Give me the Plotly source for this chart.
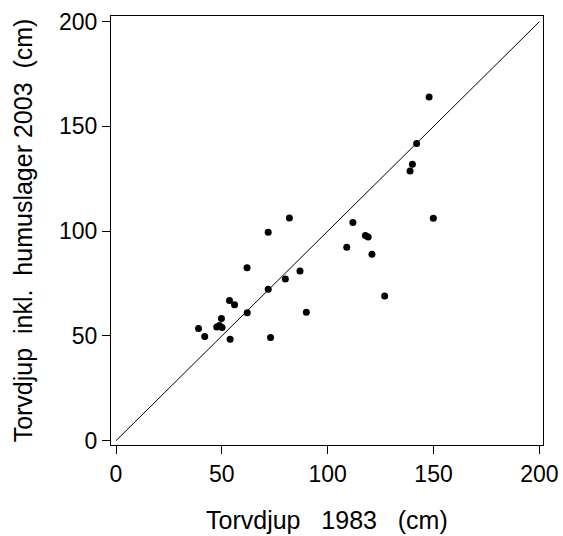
import plotly.graph_objects as go

# Torvdjup 1983 (cm)
depth_1983 = [39.0, 41.9, 47.6, 48.9, 50.1, 49.8, 53.6, 56.0, 53.9, 62.0,
              61.9, 71.9, 71.9, 73.0, 80.0, 81.9, 86.9, 89.9, 109.0, 111.9,
              117.8, 119.1, 120.9, 126.9, 138.9, 140.0, 142.0, 147.9, 149.9]
# Torvdjup inkl. humuslager 2003 (cm)
depth_2003 = [53.6, 49.7, 54.3, 55.0, 54.0, 58.3, 66.9, 64.9, 48.4, 61.1,
              82.6, 99.5, 72.3, 49.3, 77.2, 106.3, 81.0, 61.3, 92.3, 104.2,
              97.9, 97.2, 89.0, 69.1, 128.7, 131.9, 141.8, 164.1, 106.2]

# 1:1 line
line_x = [0, 200]
line_y = [0, 200]

tick_vals = [0, 50, 100, 150, 200]
tick_text = ["0", "50", "100", "150", "200"]

x_title = "Torvdjup\u00a0\u00a0\u00a01983\u00a0\u00a0\u00a0(cm)"
y_title = "Torvdjup\u00a0\u00a0inkl.\u00a0\u00a0humuslager\u00a02003\u00a0\u00a0(cm)"

FONT = "Liberation Sans, Arial, sans-serif"

fig = go.Figure()
fig.add_trace(go.Scatter(x=line_x, y=line_y, mode="lines",
                         line=dict(color="black", width=1), hoverinfo="skip"))
fig.add_trace(go.Scatter(x=depth_1983, y=depth_2003, mode="markers",
                         marker=dict(color="black", size=7, line=dict(width=0))))

axis_common = dict(
    showgrid=False, zeroline=False, showline=True, linecolor="black", linewidth=1,
    mirror=True, ticks="outside", ticklen=8, tickwidth=1, tickcolor="black",
    tickvals=tick_vals, ticktext=tick_text, automargin=False,
    tickfont=dict(family=FONT, size=23, color="black"),
)

fig.update_layout(
    width=563, height=536,
    margin=dict(l=111, r=20, t=16, b=91),
    paper_bgcolor="white", plot_bgcolor="white",
    showlegend=False,
    font=dict(family=FONT, color="black"),
    xaxis=dict(range=[-2.36, 201.7], **axis_common),
    yaxis=dict(range=[-2.05, 202.7], **axis_common),
    annotations=[
        dict(text=x_title, xref="paper", yref="paper", x=0.5, y=-0.175,
             xanchor="center", yanchor="middle", showarrow=False,
             font=dict(family=FONT, size=25, color="black")),
        dict(text=y_title, xref="paper", yref="paper", x=-0.204, y=0.5,
             xanchor="center", yanchor="middle", showarrow=False, textangle=-90,
             font=dict(family=FONT, size=25, color="black")),
    ],
)

fig.write_html(
    "out.html",
    config={"displayModeBar": False},
    post_script="document.body.style.margin='0';document.body.style.overflow='hidden';",
)
